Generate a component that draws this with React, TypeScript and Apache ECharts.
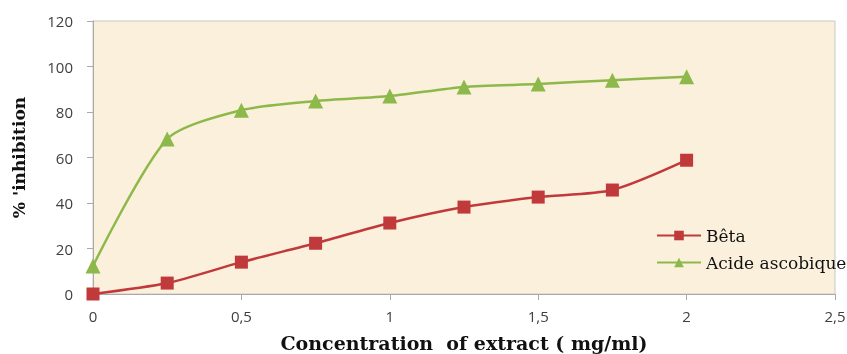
import React, { useEffect, useRef } from "react";
import * as echarts from "echarts";

const concentrations = [0, 0.25, 0.5, 0.75, 1, 1.25, 1.5, 1.75, 2];
const betaValues = [0, 4.8, 14, 22.3, 31.2, 38.2, 42.6, 45.7, 58.8];
const acideValues = [12.3, 68.1, 80.8, 84.8, 87, 91, 92.3, 94, 95.5];
const seriesNames = ["Bêta", "Acide ascobique"];

export default function App() {
  const ref = useRef<HTMLDivElement>(null);
  useEffect(() => {
    if (!ref.current) return;
    const chart = echarts.init(ref.current, null, { renderer: "svg" });
    const tickFont = { fontFamily: "Open Sans", fontSize: 15, color: "#404040" };
    chart.setOption({
      animation: false,
      grid: {
        left: 93,
        right: 12,
        top: 21,
        bottom: 60,
        outerBoundsMode: "none",
        containLabel: false,
        show: true,
        backgroundColor: "#FBF0DC",
        borderColor: "#c8c8c8",
        borderWidth: 1,
      },
      legend: {
        orient: "vertical",
        left: 651,
        top: 222,
        itemWidth: 44,
        itemHeight: 12,
        itemGap: 10,
        textStyle: { fontFamily: "DejaVu Serif", fontSize: 17, color: "#111" },
        data: seriesNames,
      },
      xAxis: {
        type: "value",
        min: 0,
        max: 2.5,
        interval: 0.5,
        name: "Concentration  of extract ( mg/ml)",
        nameLocation: "middle",
        nameGap: 39,
        nameTextStyle: {
          fontFamily: "DejaVu Serif",
          fontWeight: "bold",
          fontSize: 19,
          color: "#111",
        },
        axisLine: { show: true, lineStyle: { color: "#aaa" } },
        axisTick: { show: true, length: 6, lineStyle: { color: "#aaa" } },
        splitLine: { show: false },
        axisLabel: {
          ...tickFont,
          margin: 14,
          formatter: (v: number) => String(v).replace(".", ","),
        },
      },
      yAxis: {
        type: "value",
        min: 0,
        max: 120,
        interval: 20,
        name: "% 'inhibition",
        nameLocation: "middle",
        nameGap: 66,
        nameTextStyle: {
          fontFamily: "DejaVu Serif",
          fontWeight: "bold",
          fontSize: 17,
          color: "#111",
        },
        axisLine: { show: true, lineStyle: { color: "#aaa" } },
        axisTick: { show: true, length: 6, lineStyle: { color: "#aaa" } },
        splitLine: { show: false },
        axisLabel: { ...tickFont, margin: 20 },
      },
      series: [
        {
          name: seriesNames[0],
          type: "line",
          smooth: 0.25,
          data: concentrations.map((c, i) => [c, betaValues[i]]),
          symbol: "rect",
          symbolSize: 13,
          lineStyle: { color: "#C0393B", width: 2.5 },
          itemStyle: { color: "#C0393B" },
        },
        {
          name: seriesNames[1],
          type: "line",
          smooth: 0.25,
          data: concentrations.map((c, i) => [c, acideValues[i]]),
          symbol: "triangle",
          symbolSize: 15,
          lineStyle: { color: "#8DB84A", width: 2.5 },
          itemStyle: { color: "#8DB84A" },
        },
      ],
    });
    return () => chart.dispose();
  }, []);
  return (
    <div
      ref={ref}
      style={{ position: "fixed", left: 0, top: 0, width: 847, height: 354 }}
    />
  );
}
